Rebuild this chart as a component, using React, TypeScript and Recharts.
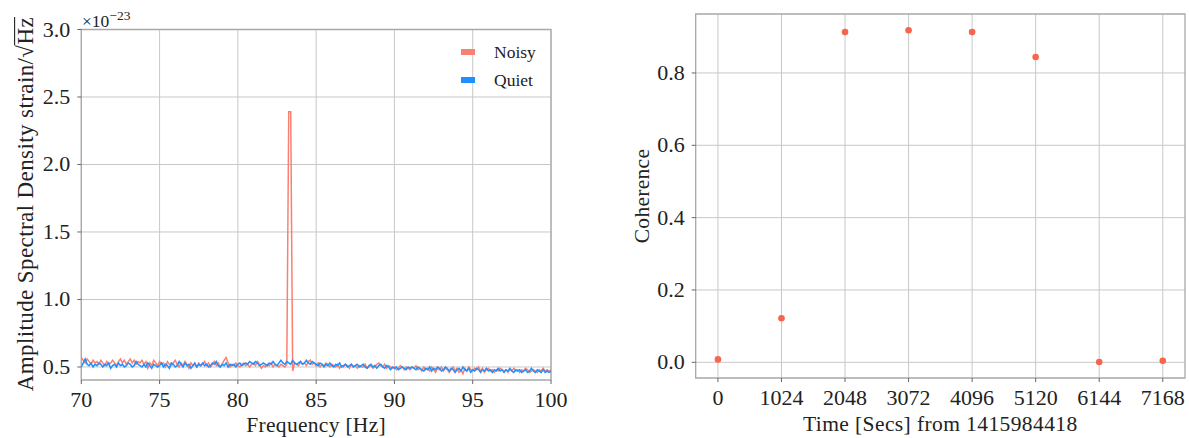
import React from 'react';
import {
  LineChart, Line, XAxis, YAxis, CartesianGrid,
  ScatterChart, Scatter, ReferenceArea,
} from 'recharts';

// ---------- Left panel data (ASD, units of 1e-23 strain/sqrt(Hz)) ----------
const FREQ_START = 70;
const FREQ_STEP = 0.125;

const noisyASD = [
  0.57, 0.55, 0.53, 0.56, 0.54, 0.52, 0.55, 0.53,
  0.54, 0.52, 0.55, 0.53, 0.51, 0.54, 0.52, 0.53,
  0.55, 0.53, 0.51, 0.54, 0.56, 0.53, 0.55, 0.52,
  0.54, 0.56, 0.53, 0.55, 0.52, 0.54, 0.53, 0.55,
  0.52, 0.54, 0.49, 0.53, 0.51, 0.55, 0.53, 0.51,
  0.54, 0.52, 0.53, 0.50, 0.54, 0.52, 0.51, 0.53,
  0.55, 0.52, 0.50, 0.53, 0.51, 0.54, 0.52, 0.49,
  0.53, 0.51, 0.52, 0.50, 0.53, 0.51, 0.52, 0.54,
  0.51, 0.53, 0.50, 0.52, 0.54, 0.51, 0.53, 0.50,
  0.52, 0.55, 0.57, 0.53, 0.50, 0.52, 0.51, 0.53,
  0.51, 0.50, 0.52, 0.53, 0.51, 0.52, 0.50, 0.52,
  0.53, 0.51, 0.54, 0.52, 0.49, 0.51, 0.50, 0.52,
  0.51, 0.53, 0.50, 0.52, 0.51, 0.50, 0.52, 0.51,
  0.50, 0.52, 2.39, 2.39, 0.47, 0.53, 0.52, 0.51,
  0.54, 0.52, 0.53, 0.51, 0.54, 0.55, 0.52, 0.53,
  0.51, 0.53, 0.50, 0.52, 0.51, 0.53, 0.52, 0.50,
  0.52, 0.51, 0.50, 0.52, 0.49, 0.51, 0.50, 0.52,
  0.51, 0.49, 0.52, 0.50, 0.51, 0.49, 0.51, 0.50,
  0.50, 0.52, 0.49, 0.50, 0.51, 0.49, 0.50, 0.52,
  0.53, 0.51, 0.50, 0.52, 0.49, 0.51, 0.50, 0.49,
  0.50, 0.48, 0.49, 0.51, 0.50, 0.48, 0.50, 0.49,
  0.48, 0.50, 0.49, 0.51, 0.48, 0.49, 0.47, 0.50,
  0.48, 0.49, 0.47, 0.50, 0.48, 0.46, 0.49, 0.48,
  0.50, 0.47, 0.49, 0.48, 0.46, 0.48, 0.50, 0.47,
  0.49, 0.46, 0.48, 0.45, 0.49, 0.47, 0.50, 0.48,
  0.47, 0.49, 0.48, 0.50, 0.47, 0.49, 0.46, 0.48,
  0.49, 0.47, 0.48, 0.46, 0.48, 0.47, 0.49, 0.48,
  0.47, 0.48, 0.46, 0.48, 0.47, 0.49, 0.47, 0.48,
  0.46, 0.48, 0.47, 0.49, 0.48, 0.46, 0.47, 0.48,
  0.47, 0.46, 0.48, 0.47, 0.49, 0.47, 0.48, 0.47,
  0.48,
];

const quietASD = [
  0.50, 0.53, 0.56, 0.52, 0.51, 0.53, 0.50, 0.52,
  0.51, 0.53, 0.52, 0.50, 0.52, 0.51, 0.53, 0.49,
  0.51, 0.52, 0.50, 0.53, 0.51, 0.52, 0.50, 0.51,
  0.53, 0.52, 0.50, 0.51, 0.54, 0.52, 0.51, 0.50,
  0.52, 0.50, 0.53, 0.51, 0.49, 0.52, 0.51, 0.50,
  0.51, 0.53, 0.50, 0.52, 0.51, 0.49, 0.53, 0.52,
  0.50, 0.51, 0.54, 0.52, 0.50, 0.53, 0.51, 0.52,
  0.49, 0.51, 0.53, 0.50, 0.52, 0.51, 0.53, 0.51,
  0.52, 0.50, 0.51, 0.53, 0.52, 0.54, 0.51, 0.50,
  0.52, 0.51, 0.53, 0.50, 0.52, 0.51, 0.52, 0.50,
  0.52, 0.53, 0.51, 0.52, 0.53, 0.52, 0.54, 0.53,
  0.52, 0.54, 0.53, 0.51, 0.52, 0.53, 0.52, 0.51,
  0.53, 0.52, 0.54, 0.52, 0.51, 0.53, 0.55, 0.53,
  0.52, 0.54, 0.53, 0.52, 0.55, 0.53, 0.52, 0.53,
  0.54, 0.52, 0.53, 0.55, 0.53, 0.52, 0.54, 0.53,
  0.52, 0.51, 0.53, 0.52, 0.50, 0.52, 0.51, 0.53,
  0.51, 0.50, 0.52, 0.51, 0.53, 0.50, 0.51, 0.52,
  0.50, 0.51, 0.52, 0.50, 0.51, 0.52, 0.50, 0.51,
  0.52, 0.50, 0.49, 0.51, 0.52, 0.50, 0.51, 0.49,
  0.51, 0.52, 0.50, 0.49, 0.51, 0.50, 0.48, 0.50,
  0.49, 0.50, 0.48, 0.49, 0.50, 0.49, 0.48, 0.50,
  0.49, 0.50, 0.49, 0.48, 0.50, 0.49, 0.48, 0.47,
  0.49, 0.48, 0.50, 0.47, 0.49, 0.48, 0.50, 0.49,
  0.47, 0.48, 0.50, 0.49, 0.47, 0.49, 0.48, 0.46,
  0.48, 0.49, 0.47, 0.50, 0.48, 0.47, 0.49, 0.46,
  0.48, 0.47, 0.49, 0.48, 0.46, 0.48, 0.47, 0.49,
  0.47, 0.48, 0.46, 0.48, 0.47, 0.49, 0.47, 0.48,
  0.46, 0.48, 0.47, 0.49, 0.47, 0.46, 0.48, 0.47,
  0.48, 0.46, 0.47, 0.48, 0.46, 0.47, 0.49, 0.47,
  0.46, 0.48, 0.47, 0.46, 0.48, 0.46, 0.47, 0.46,
  0.47,
];

const freqTicks = [70, 75, 80, 85, 90, 95, 100];
const asdTicks = [0.5, 1.0, 1.5, 2.0, 2.5, 3.0];
const ASD_MIN = 0.4035;
const ASD_MAX = 3.0;
const legendItems = [
  { name: 'Noisy', color: '#fa8072' },
  { name: 'Quiet', color: '#1e90ff' },
];

// ---------- Right panel data (coherence) ----------
const times = [0, 1024, 2048, 3072, 4096, 5120, 6144, 7168];
const coherence = [0.008, 0.122, 0.913, 0.918, 0.913, 0.844, 0.001, 0.004];
const timeTicks = [0, 1024, 2048, 3072, 4096, 5120, 6144, 7168];
const cohTicks = [0, 0.2, 0.4, 0.6, 0.8];
const T_MIN = -358.4;
const T_MAX = 7526.4;
const C_MIN = -0.0434;
const C_MAX = 0.963;

const asdData = noisyASD.map((n, i) => ({
  freq: FREQ_START + i * FREQ_STEP,
  noisy: n,
  quiet: quietASD[i],
}));
const cohData = times.map((t, i) => ({ t, c: coherence[i] }));

// ---------- Styles ----------
const FONT = "'Liberation Serif', 'DejaVu Serif', serif";
const TICK_FS = 22;
const LABEL_FS = 21.5;
const GRID = '#c8c8c8';
const SPINE = '#a8a8a8';
const TEXT = '#222';
const NOISY = legendItems[0].color;
const QUIET = legendItems[1].color;
const DOT = '#f7654e';

const XTick = (props: any) => {
  const { x, y, payload } = props;
  return (
    <text x={x} y={y + 21} textAnchor="middle" fontFamily={FONT} fontSize={TICK_FS} fill={TEXT}>
      {String(payload.value)}
    </text>
  );
};

const YTick = (props: any) => {
  const { x, y, payload } = props;
  return (
    <text x={x - 5} y={y + 7} textAnchor="end" fontFamily={FONT} fontSize={TICK_FS} fill={TEXT}>
      {Number(payload.value).toFixed(1)}
    </text>
  );
};

const LeftXLabel = (props: any) => {
  const vb = props.viewBox || {};
  return (
    <text x={vb.x + vb.width / 2} y={432} textAnchor="middle" fontFamily={FONT} fontSize={LABEL_FS} letterSpacing={0.3} fill={TEXT}>
      Frequency [Hz]
    </text>
  );
};

const LeftYLabel = () => {
  const bx = 33;
  const y0 = 17;
  const fs = 23;
  const ls = 0.4;
  const hzW = (0.722 + 0.444) * fs + ls;
  return (
    <g>
      <g transform={`rotate(-90, ${bx}, ${y0})`}>
        <text
          x={bx}
          y={y0}
          textAnchor="end"
          fontFamily={FONT}
          fontSize={fs}
          letterSpacing={ls}
          fill={TEXT}
        >
          Amplitude Spectral Density strain/√Hz
        </text>
        <line x1={bx - hzW - 1} x2={bx} y1={y0 - fs * 0.8} y2={y0 - fs * 0.8} stroke={TEXT} strokeWidth={1.1} />
      </g>
      <text x={82} y={27} fontFamily={FONT} fontSize={17.5} fill={TEXT}>
        ×10<tspan fontSize={13.5} dy={-7}>−23</tspan>
      </text>
    </g>
  );
};

const RightXLabel = (props: any) => {
  const vb = props.viewBox || {};
  return (
    <text x={vb.x + vb.width / 2} y={431} textAnchor="middle" fontFamily={FONT} fontSize={LABEL_FS} letterSpacing={0.4} fill={TEXT}>
      Time [Secs] from 1415984418
    </text>
  );
};

const RightYLabel = (props: any) => {
  const vb = props.viewBox || {};
  const cy = vb.y + vb.height / 2;
  const bx = 49;
  return (
    <text
      x={bx}
      y={cy}
      transform={`rotate(-90, ${bx}, ${cy})`}
      textAnchor="middle"
      fontFamily={FONT}
      fontSize={LABEL_FS}
      letterSpacing={0.3}
      fill={TEXT}
    >
      Coherence
    </text>
  );
};

const Dot = (props: any) => {
  const { cx, cy } = props;
  return <circle cx={cx} cy={cy} r={3.3} fill={DOT} />;
};

export default function App() {
  return (
    <div style={{ position: 'absolute', left: 0, top: 0, width: 1189, height: 438, background: '#fff', overflow: 'hidden' }}>
      <div style={{ position: 'absolute', left: 0, top: 0 }}>
        <LineChart
          width={600}
          height={438}
          data={asdData}
          margin={{ top: 29.5, right: 49, bottom: 0, left: 0 }}
        >
          <CartesianGrid stroke={GRID} strokeWidth={1} horizontalValues={asdTicks} verticalValues={freqTicks} />
          <XAxis
            dataKey="freq"
            type="number"
            domain={[70, 100]}
            ticks={freqTicks}
            allowDataOverflow
            height={58}
            tickSize={4}
            tickLine={{ stroke: '#666' }}
            axisLine={false}
            tick={<XTick />}
            label={<LeftXLabel />}
          />
          <YAxis
            type="number"
            domain={[ASD_MIN, ASD_MAX]}
            ticks={asdTicks}
            allowDataOverflow
            width={81.3}
            tickSize={4}
            tickLine={{ stroke: '#666' }}
            axisLine={false}
            tick={<YTick />}
            label={<LeftYLabel />}
          />
          <ReferenceArea
            x1={70}
            x2={100}
            y1={ASD_MIN}
            y2={ASD_MAX}
            fill="none"
            stroke={SPINE}
            strokeWidth={1.3}
            ifOverflow="visible"
          />
          <Line type="linear" dataKey="noisy" name="Noisy" stroke={NOISY} strokeWidth={1.5} dot={false} isAnimationActive={false} />
          <Line type="linear" dataKey="quiet" name="Quiet" stroke={QUIET} strokeWidth={1.5} dot={false} isAnimationActive={false} />
        </LineChart>
        <div style={{ position: 'absolute', left: 461, top: 38, fontFamily: FONT, fontSize: 17.5, color: TEXT }}>
          {legendItems.map((it) => (
            <div key={it.name} style={{ display: 'flex', alignItems: 'center', height: 28 }}>
              <div style={{ width: 14, height: 6, background: it.color, marginRight: 19 }} />
              <span>{it.name}</span>
            </div>
          ))}
        </div>
      </div>
      <div style={{ position: 'absolute', left: 600, top: 0 }}>
        <ScatterChart
          width={589}
          height={438}
          margin={{ top: 14, right: 4, bottom: 0, left: 0 }}
        >
          <CartesianGrid stroke={GRID} strokeWidth={1} horizontalValues={cohTicks} verticalValues={timeTicks} />
          <XAxis
            dataKey="t"
            type="number"
            domain={[T_MIN, T_MAX]}
            ticks={timeTicks}
            allowDataOverflow
            height={60}
            tickSize={4}
            tickLine={{ stroke: '#666' }}
            axisLine={false}
            tick={<XTick />}
            label={<RightXLabel />}
          />
          <YAxis
            dataKey="c"
            type="number"
            domain={[C_MIN, C_MAX]}
            ticks={cohTicks}
            allowDataOverflow
            width={95.7}
            tickSize={4}
            tickLine={{ stroke: '#666' }}
            axisLine={false}
            tick={<YTick />}
            label={<RightYLabel />}
          />
          <ReferenceArea
            x1={T_MIN}
            x2={T_MAX}
            y1={C_MIN}
            y2={C_MAX}
            fill="none"
            stroke={SPINE}
            strokeWidth={1.3}
            ifOverflow="visible"
          />
          <Scatter data={cohData} fill={DOT} shape={<Dot />} isAnimationActive={false} />
        </ScatterChart>
      </div>
    </div>
  );
}
